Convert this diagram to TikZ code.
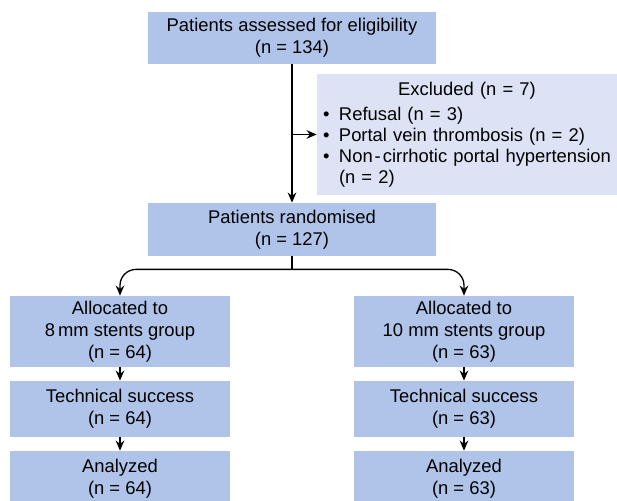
\documentclass[tikz,border=0pt]{standalone}
\usepackage{fontspec}
\setmainfont{Liberation Sans}
\usetikzlibrary{arrows.meta}
\definecolor{boxblue}{RGB}{176,196,234}
\definecolor{exblue}{RGB}{221,227,245}

\begin{document}
\begin{tikzpicture}[x=0.5pt,y=-0.5pt,
    box/.style={fill=boxblue,align=center,inner sep=0pt,
        font=\fontsize{9.2}{11}\selectfont},
    exbox/.style={fill=exblue,align=left,inner ysep=0pt,inner xsep=3pt,
        text width=144pt,minimum height=60.5pt,
        font=\fontsize{9.2}{10.4}\selectfont},
    arr/.style={-{Stealth[length=5pt,width=4.3pt]},line width=0.65pt}]

    \useasboundingbox (0,0) rectangle (617,501);

    \node[box,minimum width=144pt,minimum height=26pt] (assess) at (292,38)
        {Patients assessed for eligibility\\(n = 134)};
    \node[exbox] (excl) at (467,134.5)
        {\makebox[\linewidth][c]{Excluded (n = 7)}\\[2.5pt]
         \makebox[8pt][l]{\textbullet}Refusal (n = 3)\\
         \makebox[8pt][l]{\textbullet}Portal vein thrombosis (n = 2)\\
         \makebox[8pt][l]{\textbullet}Non\kern1pt-\kern1pt cirrhotic portal hypertension\\
         \hspace*{8pt}(n = 2)};
    \node[box,minimum width=144pt,minimum height=26.5pt] (rand) at (292,229.5)
        {Patients randomised\\(n = 127)};
    \coordinate (split) at ([yshift=-6.5pt]rand.south);

    % two arms
    \node[box,minimum width=110pt,minimum height=35.5pt] (alloc8) at (120,331.5)
        {Allocated to\\8\,mm stents group\\(n = 64)};
    \node[box,minimum width=110pt,minimum height=35.5pt] (alloc10) at (464,331.5)
        {Allocated to\\10 mm stents group\\(n = 63)};
    \node[box,minimum width=110pt,minimum height=28pt] (tech8) at (120,409)
        {Technical success\\(n = 64)};
    \node[box,minimum width=110pt,minimum height=28pt] (tech10) at (464,409)
        {Technical success\\(n = 63)};
    \node[box,minimum width=110pt,minimum height=28pt] (ana8) at (120,479)
        {Analyzed\\(n = 64)};
    \node[box,minimum width=110pt,minimum height=28pt] (ana10) at (464,479)
        {Analyzed\\(n = 63)};

    \draw[arr] (assess.south) -- (rand.north);
    \draw[arr] (assess.south |- excl.west) -- (excl.west);
    \draw[line width=0.65pt] (rand.south) -- (split);
    \draw[arr,rounded corners=8pt] (split) -| (alloc8.north);
    \draw[arr,rounded corners=8pt] (split) -| (alloc10.north);
    \draw[arr] (alloc8) -- (tech8);
    \draw[arr] (alloc10) -- (tech10);
    \draw[arr] (tech8) -- (ana8);
    \draw[arr] (tech10) -- (ana10);
\end{tikzpicture}
\end{document}
